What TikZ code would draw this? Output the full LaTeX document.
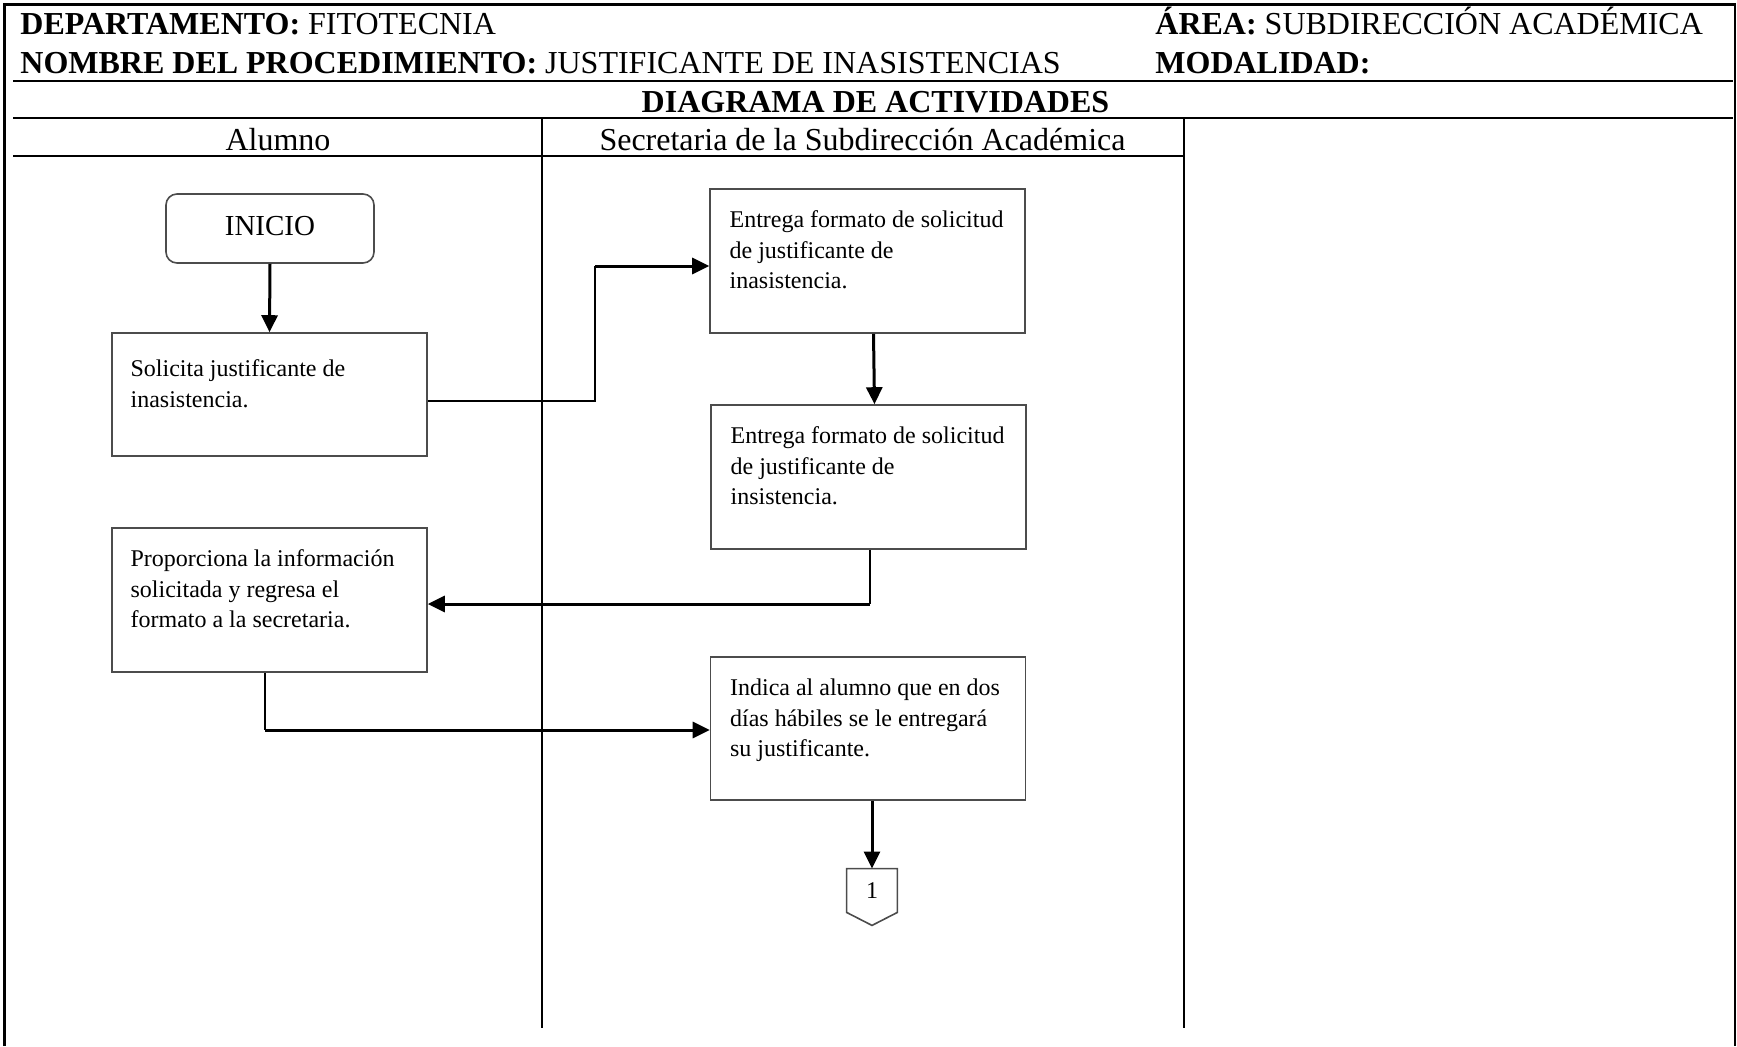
\documentclass[tikz,border=0pt]{standalone}
\usepackage{fontspec}
\setmainfont{Liberation Serif}
\usetikzlibrary{arrows.meta}
\begin{document}
\begin{tikzpicture}[x=0.5pt,y=-0.5pt,
  frame/.style={line width=1.8pt},
  rule/.style={line width=1pt},
  lane/.style={line width=1.1pt},
  box/.style={draw=black!70, line width=0.8pt, rectangle, inner sep=0pt},
  stepbox/.style={box, minimum width=157.5pt, minimum height=72pt},
  btext/.style={anchor=north west, inner sep=0pt, align=left, font=\fontsize{12}{15.25}\selectfont},
  hdr/.style={anchor=base west, inner sep=0pt, font=\fontsize{16}{19}\selectfont},
  thinline/.style={line width=0.6pt},
  arr/.style={line width=1.5pt, -{Triangle[length=8.5pt,width=8pt]}},
]
\useasboundingbox (0,0) rectangle (1737,1046);
% frame
\draw[frame] (4.5,1046) -- (4.5,4.5) -- (1735,4.5);
\draw[line width=1.1pt] (1735,3) -- (1735,1046);
% rules
\draw[rule] (13,81) -- (1733,81);
\draw[rule] (13,118) -- (1733,118);
\draw[rule] (13,156) -- (1184,156);
\draw[lane] (542,118) -- (542,1028);
\draw[lane] (1184,118) -- (1184,1028);
% header texts
\node[hdr] (dep) at (20,34) {\textbf{DEPARTAMENTO:} FITOTECNIA};
\node[hdr] (area) at (1155,34) {\textbf{ÁREA:} SUBDIRECCIÓN ACADÉMICA};
\node[hdr] (nom) at (20,73.5) {\textbf{NOMBRE DEL PROCEDIMIENTO:} JUSTIFICANTE DE INASISTENCIAS};
\node[hdr] (mod) at (1155,73.5) {\textbf{MODALIDAD:}};
\node[hdr, anchor=base] (diag) at (875.5,112) {\textbf{DIAGRAMA DE ACTIVIDADES}};
\node[hdr, anchor=base] (l1) at (278,150) {Alumno};
\node[hdr, anchor=base] (l2) at (862.5,150) {Secretaria de la Subdirección Académica};
% nodes
\node[box, rounded corners=5.5pt, minimum width=104pt, minimum height=34.5pt,
      font=\fontsize{14.5}{17}\selectfont] (inicio) at (270,228.5) {\raisebox{2.2pt}{INICIO}};
\node[stepbox, minimum height=61.5pt] (sol) at (269.5,394.5) {};
\node[btext] (solt) at ([xshift=9.5pt,yshift=-13.5pt]sol.north west)
  {Solicita justificante de\\inasistencia.};
\node[stepbox] (ent1) at (867.5,261) {};
\node[btext] (ent1t) at ([xshift=10pt,yshift=-11.2pt]ent1.north west)
  {Entrega formato de solicitud\\de justificante de\\inasistencia.};
\node[stepbox] (ent2) at (868.5,477) {};
\node[btext] (ent2t) at ([xshift=10pt,yshift=-11.2pt]ent2.north west)
  {Entrega formato de solicitud\\de justificante de\\insistencia.};
\node[stepbox] (prop) at (269.5,600) {};
\node[btext] (propt) at ([xshift=9.5pt,yshift=-11.2pt]prop.north west)
  {Proporciona la información\\solicitada y regresa el\\formato a la secretaria.};
\node[stepbox, minimum height=71.5pt] (ind) at (868,728.5) {};
\node[btext] (indt) at ([xshift=10pt,yshift=-11.2pt]ind.north west)
  {Indica al alumno que en dos\\días hábiles se le entregará\\su justificante.};
\node[minimum width=25pt, minimum height=21.5pt, inner sep=0pt,
      font=\fontsize{12}{14}\selectfont] (conn) at (872,890.5) {1};
\draw[draw=black!70, line width=0.8pt] (conn.north west) -- (conn.north east) -- (conn.south east)
  -- ([yshift=-6.5pt]conn.south) -- (conn.south west) -- cycle;
% connectors
\draw[arr] (inicio.south) -- (sol.north);
\coordinate (k1) at (595,401);
\coordinate (k2) at (595,266);
\draw[thinline] (sol.east |- k1) -- (k1) -- (k2);
\draw[arr] (k2) -- (k2 -| ent1.west);
\draw[arr] ([xshift=3pt]ent1.south) -- ([xshift=3pt]ent2.north);
\coordinate (k3) at (870,604);
\draw[thinline] (ent2.south -| k3) -- (k3);
\draw[arr] (k3) -- (k3 -| prop.east);
\coordinate (k4) at (265,730);
\draw[thinline] (prop.south -| k4) -- (k4);
\draw[arr] (k4) -- (k4 -| ind.west);
\draw[arr] (ind.south -| conn.north) -- (conn.north);
\end{tikzpicture}
\end{document}
